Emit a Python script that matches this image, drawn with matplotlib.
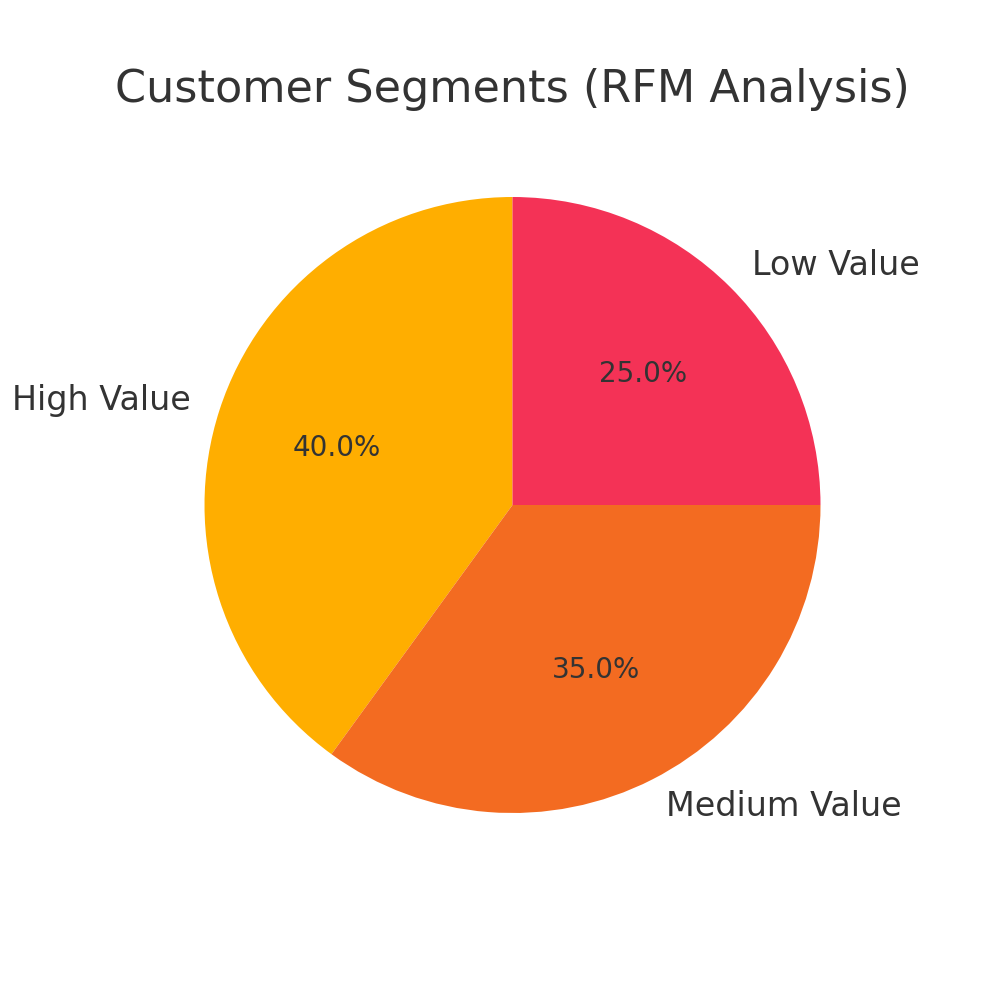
import matplotlib.pyplot as plt

segments = ["High Value", "Medium Value", "Low Value"]
shares = [40, 35, 25]
colors = ["#FFAE00", "#F36B21", "#F43256"]

plt.rcParams.update({"font.family": "DejaVu Sans", "text.color": "#333333"})

fig, ax = plt.subplots(figsize=(10, 10), dpi=100)
wedges, texts, autotexts = ax.pie(
    shares,
    labels=segments,
    colors=colors,
    autopct="%1.1f%%",
    startangle=90,
    textprops={"fontsize": 24, "color": "#333333"},
)
for t in autotexts:
    t.set_fontsize(20)
ax.set_title("Customer Segments (RFM Analysis)", fontsize=32, color="#333333", pad=13)
fig.savefig("out.png")
